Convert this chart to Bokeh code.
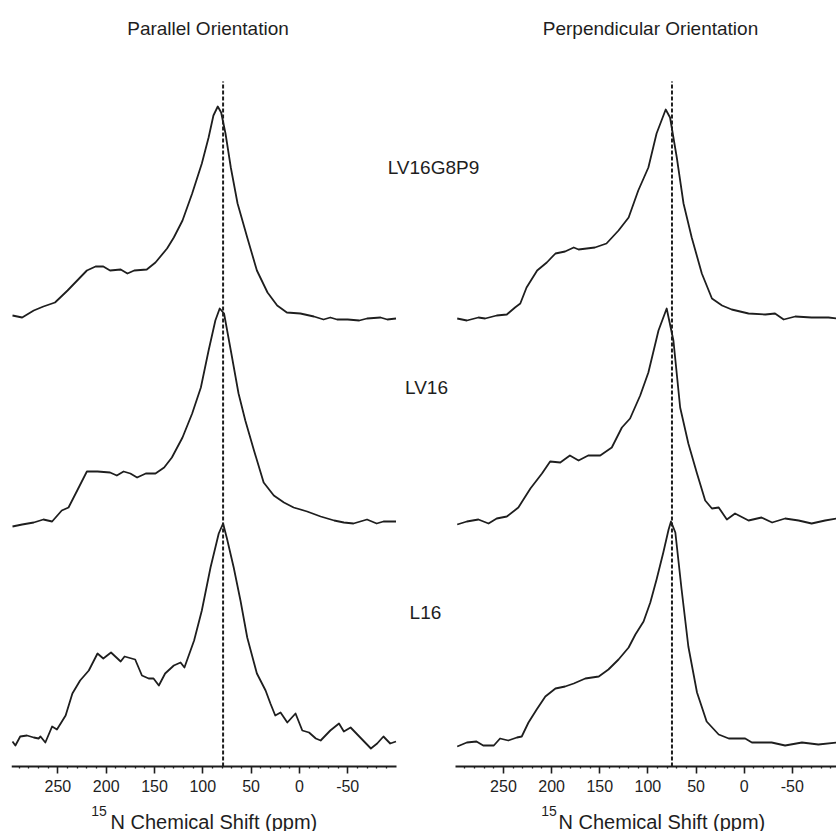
from bokeh.plotting import figure
from bokeh.models import Range1d, LinearAxis, FixedTicker, Label
from bokeh.embed import file_html
from bokeh.resources import INLINE

# ---------------- data ----------------
panel_titles = ["Parallel Orientation", "Perpendicular Orientation"]
sample_names = ["LV16G8P9", "LV16", "L16"]
axis_title = "N Chemical Shift (ppm)"
axis_sup = "15"
major_ticks = [250, 200, 150, 100, 50, 0, -50]
tick_labels = ["250", "200", "150", "100", "50", "0", "-50"]
minor_ticks = [290, 280, 270, 260, 240, 230, 220, 210, 190, 180, 170, 160, 140, 130, 120, 110,
               90, 80, 70, 60, 40, 30, 20, 10, -10, -20, -30, -40, -60, -70, -80, -90]
ref_par = 79      # dashed reference line, parallel (ppm)
ref_perp = 75     # dashed reference line, perpendicular (ppm)

# stacking offsets (arbitrary intensity units) for LV16G8P9, LV16, L16
offsets = [448, 245, 25]
ref_top = 685

# Parallel orientation spectra
par_lv16g8p9_ppm = [297, 287, 275, 265, 253, 240, 228, 220, 211, 203, 196, 185, 178, 171, 158, 149, 137, 130, 121, 111,
                    101, 94, 89, 84.5, 81, 76.5, 71, 64, 54, 44, 33, 23, 13, -1, -15, -25, -32, -39, -50, -62,
                    -70, -84, -91, -100]
par_lv16g8p9_int = [3, 1, 8, 12, 16, 28, 40, 48, 52, 52, 48, 49, 45, 48, 49, 56, 70, 81, 98, 125,
                    155, 181, 203, 212, 206, 185, 151, 115, 81, 48, 26, 13, 6, 5, 2, -1, 1, -1, -1, -2,
                    0, 1, -1, 0]

par_lv16_ppm = [297, 287, 275, 265, 256, 246, 239, 230, 220, 209, 196, 189, 182, 175, 168, 159, 149, 140, 132, 121,
                111, 102, 94, 87, 82.5, 78, 71, 63, 56, 47, 37, 26.5, 16, 6, -8, -22, -36, -46, -56, -70,
                -80, -87, -100]
par_lv16_int = [-5, -3, -1, 2, 0, 11, 14, 31, 50, 50, 49, 46, 50, 48, 44, 48, 48, 54, 64, 84,
                108, 134, 171, 201, 213, 208, 171, 128, 101, 71, 39, 26, 19, 14, 10, 5, 1, -1, -2, 2,
                -2, 0, 0]

par_l16_ppm = [297, 294, 289, 282, 275, 270, 268, 263, 256, 251, 242, 235, 227, 218, 209, 203, 195, 185, 181, 170,
               163, 156, 151, 145.5, 139, 130, 123, 119, 109, 101, 92, 83.5, 79, 75, 68, 61, 54, 44, 35, 30,
               25, 19.5, 12.5, 4, -3, -10, -17, -22, -32, -41, -46, -53, -63, -74, -80.5, -87, -94, -100]
par_l16_int = [0, -4, 5, 6, 4, 3, 5, -1, 15, 12, 26, 48, 61, 71, 88, 83, 89, 80, 85, 82,
               66, 63, 63, 56, 68, 76, 79, 74, 101, 131, 174, 208, 218, 203, 174, 141, 104, 68, 51, 38,
               26, 29, 19, 28, 11, 9, 3, 1, 11, 18, 10, 14, 4, -7, -2, 5, -2, 0]

# Perpendicular orientation spectra
perp_lv16g8p9_ppm = [298, 288, 276, 269, 257, 246.5, 238, 232.5, 226, 215, 205, 196, 186, 177, 172, 155, 143, 130.5, 120, 110,
                     99.5, 91, 81.5, 77, 70, 63, 54.5, 44, 33.5, 23, 13, -4.5, -22, -32, -41, -53, -70, -87.5, -96]
perp_lv16g8p9_int = [0, -2, 1, 0, 3, 4, 11, 15, 31, 48, 56, 65, 67, 71, 69, 71, 75, 88, 101, 128,
                     151, 185, 209, 201, 161, 115, 81, 45, 20, 13, 9, 5, 4, 5, -1, 2, 1, 1, 0]

perp_lv16_ppm = [298, 288, 276, 265.5, 257, 246.5, 234.5, 222, 210, 201.5, 191, 181, 172, 162, 149.5, 137.5, 127, 118.5, 108, 99.5,
                 89, 80.5, 73.5, 66.5, 58, 49, 40.5, 33.5, 26.5, 18, 9.5, -4.5, -18, -29, -42.5, -56.5, -70, -84, -96]
perp_lv16_int = [-3, 0, 2, -2, 3, 5, 14, 33, 48, 60, 59, 66, 61, 66, 66, 74, 94, 103, 126, 149,
                 191, 213, 181, 114, 78, 48, 21, 13, 14, 2, 8, 1, 4, -1, 3, 1, -2, 1, 3]

perp_l16_ppm = [298, 288, 278, 271, 260, 253.5, 245, 236, 231, 224, 215.5, 206.5, 196, 186, 177, 165, 151, 141, 130.5, 120,
                113, 104.5, 97.5, 91, 84, 78.5, 76, 71.5, 65, 58, 49, 39, 26.5, 16, -1, -8, -28.5, -42.5, -60, -77, -96]
perp_l16_int = [-5, -1, 0, -4, -4, 3, 1, 4, 5, 19, 32, 45, 53, 55, 58, 63, 65, 72, 82, 94,
                107, 120, 139, 162, 189, 212, 220, 209, 152, 95, 49, 20, 7, 3, 3, -1, -1, -4, -1, -3, -1]

# ---------------- figure ----------------
FONT = "Liberation Sans"
INK = "#1e1e1e"

p = figure(width=836, height=831, output_backend="svg", toolbar_location=None,
           x_range=Range1d(298.03, -556.0), y_range=Range1d(-65, 766),
           x_axis_location=None, y_axis_location=None,
           min_border_left=11, min_border_right=0, min_border_top=0, min_border_bottom=0)
p.extra_x_ranges = {"perp": Range1d(760.85, -95.85)}
p.outline_line_color = None
p.grid.grid_line_color = None
p.background_fill_color = "white"
p.border_fill_color = "white"


def make_axis(range_name, bounds):
    ax = LinearAxis(x_range_name=range_name, fixed_location=0, bounds=bounds,
                    ticker=FixedTicker(ticks=major_ticks, minor_ticks=minor_ticks))
    ax.major_label_overrides = {t: s for t, s in zip(major_ticks, tick_labels)}
    ax.axis_line_width = 1.8
    ax.axis_line_color = INK
    ax.major_tick_line_color = INK
    ax.major_tick_line_width = 1.6
    ax.major_tick_out = 7
    ax.major_tick_in = 0
    ax.minor_tick_line_color = INK
    ax.minor_tick_line_width = 1.3
    ax.minor_tick_out = 2
    ax.minor_tick_in = 0
    ax.major_label_text_font = FONT
    ax.major_label_text_font_size = "16px"
    ax.major_label_text_color = INK
    ax.major_label_standoff = 6
    return ax


p.add_layout(make_axis("default", (-100, 298)), "below")
p.add_layout(make_axis("perp", (-96, 299.5)), "below")

par = [(par_lv16g8p9_ppm, par_lv16g8p9_int), (par_lv16_ppm, par_lv16_int), (par_l16_ppm, par_l16_int)]
perp = [(perp_lv16g8p9_ppm, perp_lv16g8p9_int), (perp_lv16_ppm, perp_lv16_int), (perp_l16_ppm, perp_l16_int)]

for (xs, ys), off in zip(par, offsets):
    p.line(xs, [v + off for v in ys], line_color=INK, line_width=1.8, line_join="round")
for (xs, ys), off in zip(perp, offsets):
    p.line(xs, [v + off for v in ys], line_color=INK, line_width=1.8, line_join="round", x_range_name="perp")

p.segment(x0=[ref_par], y0=[0], x1=[ref_par], y1=[ref_top], line_color=INK,
          line_width=2, line_dash="4 2")
p.segment(x0=[ref_perp], y0=[0], x1=[ref_perp], y1=[ref_top], line_color=INK,
          line_width=2, line_dash="4 2", x_range_name="perp")

# panel titles
p.add_layout(Label(x=94.6, y=738.3, text=panel_titles[0], text_font=FONT, text_font_size="19px",
                   text_align="center", text_baseline="alphabetic", text_color=INK))
p.add_layout(Label(x=97.3, y=738.3, text=panel_titles[1], text_font=FONT, text_font_size="19px",
                   text_align="center", text_baseline="alphabetic", text_color=INK, x_range_name="perp"))

# sample names (between the panels)
name_x = [-138.8, -131.6, -130.5]
name_y = [599.3, 379.3, 154.3]
for nm, nx, ny in zip(sample_names, name_x, name_y):
    p.add_layout(Label(x=nx, y=ny, text=nm, text_font=FONT, text_font_size="19px",
                       text_align="center", text_baseline="alphabetic", text_color=INK))

# axis titles with superscript
for rname, xs_sup, xs_main in (("default", 215.5, 195.5), ("perp", 210.8, 192.8)):
    p.add_layout(Label(x=xs_sup, y=-44, text=axis_sup, text_font=FONT, text_font_size="14px",
                       text_align="left", text_baseline="alphabetic", text_color=INK, x_range_name=rname))
    p.add_layout(Label(x=xs_main, y=-55, text=axis_title, text_font=FONT, text_font_size="20px",
                       text_align="left", text_baseline="alphabetic", text_color=INK, x_range_name=rname))

open("out.html", "w").write(file_html(p, INLINE))
